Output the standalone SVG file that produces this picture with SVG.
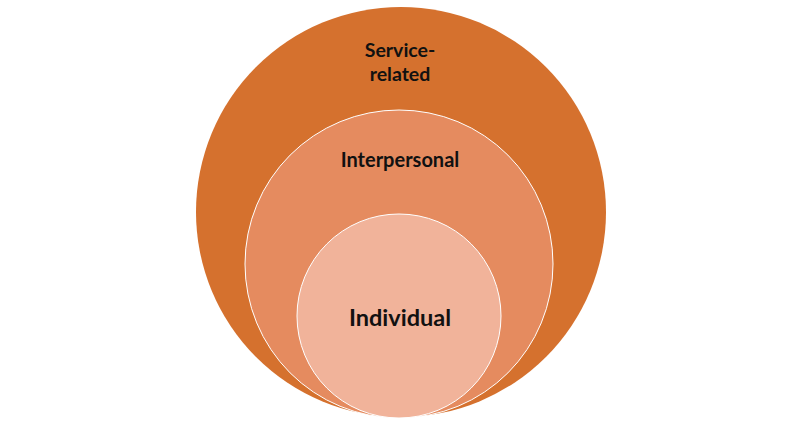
<svg xmlns="http://www.w3.org/2000/svg" width="800" height="423" viewBox="0 0 800 423">
<style>
.lbl{font-family:Lato,"Open Sans","Liberation Sans",sans-serif;font-weight:bold;fill:#111;text-anchor:middle}
.ring{stroke:#fff;stroke-width:1}
</style>
<rect width="800" height="423" fill="#fff"/>
<g id="service-related">
<circle cx="401" cy="212" r="205" fill="#D5712E"/>
<text class="lbl" x="400" y="57" font-size="19.5">Service-</text>
<text class="lbl" x="400" y="81" font-size="19.5">related</text>
</g>
<g id="interpersonal">
<circle class="ring" cx="399" cy="264" r="154" fill="#E58B5F"/>
<text class="lbl" x="400" y="167" font-size="20">Interpersonal</text>
</g>
<g id="individual">
<circle class="ring" cx="399" cy="316" r="102" fill="#F1B39A"/>
<text class="lbl" x="400" y="326" font-size="23.5">Individual</text>
</g>
<g id="connectors"/>
</svg>
